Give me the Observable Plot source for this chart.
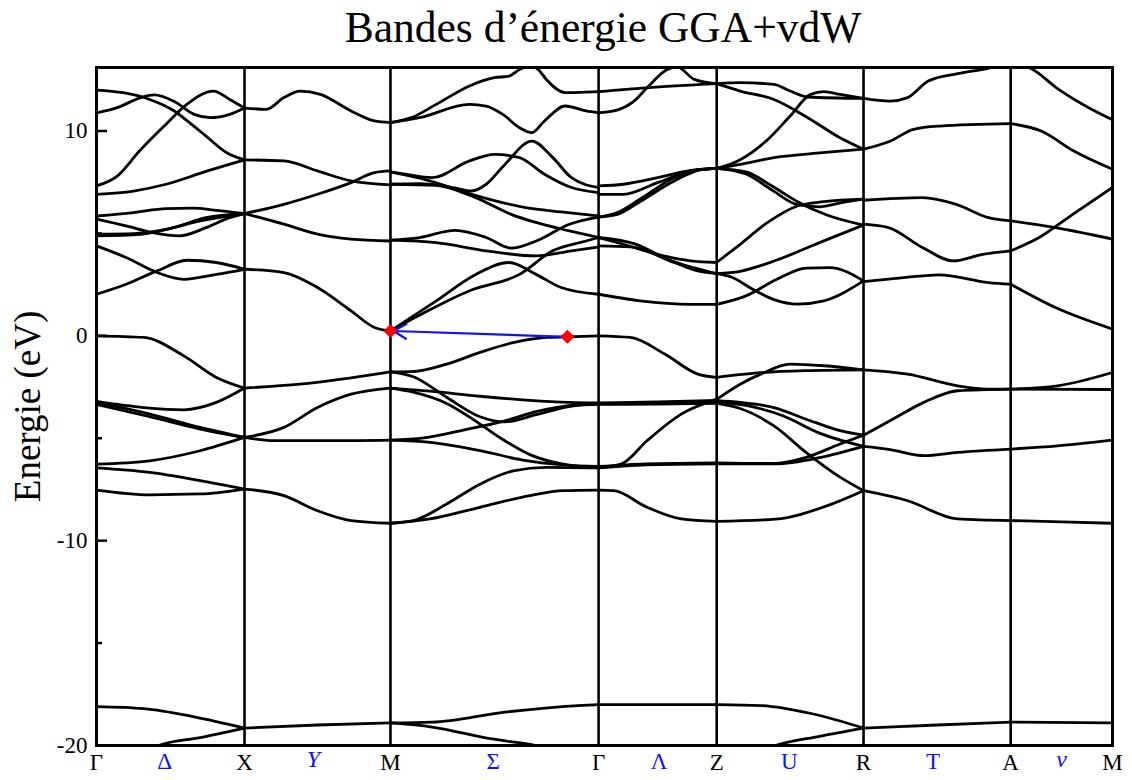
<!DOCTYPE html>
<html><head><meta charset="utf-8">
<script src="https://cdn.jsdelivr.net/npm/d3@7"></script>
<script src="https://cdn.jsdelivr.net/npm/@observablehq/plot@0.6"></script>
<style>
body{margin:0;background:#fff;}
#title{height:60px;width:1132px;position:relative;font-family:"Liberation Serif",serif;font-size:43.5px;line-height:42px;}
#title span{position:absolute;left:603px;top:6px;transform:translateX(-50%);white-space:nowrap;}
</style></head><body>
<div id="title"><span>Bandes d’énergie GGA+vdW</span></div>
<div id="chart"></div>
<script>
// High-symmetry points and cumulative k-path distance (2π/a)
const kLabels = ["Γ","X","M","Γ","Z","R","A","M"];
const kDist = [0, 0.5, 0.993, 1.696, 2.095, 2.591, 3.088, 3.432];
// Direction labels between the points
const midLabels = ["Δ","Y","Σ","Λ","U","T","ν"];
const midK = [0.23, 0.733, 1.34, 1.9, 2.34, 2.826, 3.26];
const italicLabels = ["Y","ν"];
// Energy ticks (eV)
const majorTicks = [10, 0, -10, -20];
const minorTicks = [5, -5, -15];

// Bands per segment: each curve is a list of [fraction along segment, energy eV]
const segGX = [
 [[0,12.0],[.18,11.87],[.36,11.54],[.52,11.0],[.63,10.4],[.74,9.75],[.88,8.94],[1,8.59]],
 [[0,10.89],[.14,11.14],[.3,11.63],[.39,11.76],[.52,11.46],[.66,10.81],[.77,10.65],[.9,10.81],[1,11.12]],
 [[0,7.32],[.14,7.8],[.29,9.02],[.47,10.33],[.61,11.3],[.79,11.95],[.9,11.54],[1,11.12]],
 [[0,6.91],[.25,7.07],[.47,7.4],[.75,8.05],[1,8.59]],
 [[0,5.85],[.25,6.02],[.47,6.21],[.65,6.23],[.81,6.13],[1,5.97]],
 [[0,5.7],[.2,5.37],[.38,5.04],[.56,4.88],[.74,5.28],[.9,5.77],[1,5.97]],
 [[0,4.96],[.25,4.99],[.47,5.2],[.7,5.61],[1,5.97]],
 [[0,4.88],[.3,4.96],[.52,5.28],[.74,5.77],[1,5.97]],
 [[0,4.39],[.2,3.82],[.41,3.09],[.59,2.76],[.81,3.0],[1,3.25]],
 [[0,2.03],[.2,2.52],[.41,3.17],[.61,3.69],[.81,3.58],[1,3.25]],
 [[0,0],[.32,-0.08],[.59,-0.98],[.81,-2.03],[1,-2.55]],
 [[0,-3.2],[.32,-3.5],[.59,-3.61],[.81,-3.25],[1,-2.55]],
 [[0,-3.25],[.36,-3.82],[.7,-4.47],[1,-4.96]],
 [[0,-3.35],[.36,-3.95],[.7,-4.55],[1,-4.96]],
 [[0,-6.26],[.36,-6.1],[.7,-5.61],[1,-4.96]],
 [[0,-6.45],[.36,-6.67],[.7,-7.07],[1,-7.48]],
 [[0,-7.53],[.36,-7.76],[.7,-7.72],[1,-7.48]],
 [[0,-18.1],[.32,-18.2],[.66,-18.6],[1,-19.15]],
 [[0,-21.4],[.2,-20.8],[.42,-20.0],[.71,-19.6],[1,-19.15]]
];
const segXM = [
 [[0,11.12],[.15,11.06],[.27,11.63],[.38,11.95],[.52,11.79],[.73,10.98],[.89,10.49],[1,10.41]],
 [[0,8.59],[.27,8.54],[.5,8.05],[.73,7.56],[1,7.37]],
 [[0,5.97],[.27,6.42],[.5,6.91],[.73,7.48],[.89,7.97],[1,8.05]],
 [[0,5.97],[.27,5.45],[.5,4.96],[.73,4.72],[1,4.63]],
 [[0,3.25],[.27,3.09],[.5,2.36],[.73,1.22],[.89,0.41],[1,0.24]],
 [[0,-2.55],[.38,-2.36],[1,-1.76]],
 [[0,-4.96],[.27,-4.47],[.5,-3.5],[.73,-2.85],[1,-2.55]],
 [[0,-4.96],[.2,-5.12],[.61,-5.12],[1,-5.09]],
 [[0,-7.48],[.27,-7.8],[.5,-8.54],[.73,-9.02],[1,-9.15]],
 [[0,-19.15],[.5,-19.0],[1,-18.9]]
];
const segMG = [
 [[0,10.41],[.1,10.65],[.22,11.3],[.38,12.2],[.5,12.6],[.57,12.68],[.62,13.0],[.67,13.2],[.71,13.0],[.75,12.5],[.84,11.87],[.94,11.9],[1,11.92]],
 [[0,10.41],[.14,10.65],[.38,11.3],[.46,11.22],[.54,10.81],[.62,10.16],[.68,9.92],[.74,10.49],[.84,11.22],[.94,10.98],[1,10.89]],
 [[0,8.0],[.07,7.89],[.2,7.72],[.38,8.54],[.5,8.86],[.62,8.7],[.74,7.89],[.87,7.24],[1,6.99]],
 [[0,8.0],[.18,7.59],[.39,6.91],[.65,6.26],[.82,6.05],[1,5.85]],
 [[0,7.4],[.22,7.35],[.39,6.83],[.58,5.93],[.86,5.12],[1,4.8]],
 [[0,7.4],[.14,7.43],[.3,7.24],[.39,7.07],[.46,7.4],[.55,8.37],[.68,9.51],[.78,8.7],[.87,7.72],[1,7.24]],
 [[0,4.67],[.14,4.8],[.31,5.15],[.46,4.8],[.58,4.28],[.7,4.63],[.86,5.45],[1,5.8]],
 [[0,4.67],[.22,4.55],[.46,4.15],[.7,3.9],[.87,4.15],[1,4.34]],
 [[0,0.24],[.22,1.71],[.41,3.0],[.57,3.58],[.7,3.0],[.82,2.36],[1,2.03]],
 [[0,0.24],[.18,1.22],[.38,2.2],[.62,3.0],[.78,4.15],[.94,4.63],[1,4.8]],
 [[0,-1.76],[.1,-1.75],[.27,-1.38],[.43,-0.81],[.59,-0.33],[.75,-0.08],[.85,-0.05],[1,0]],
 [[0,-1.76],[.11,-2.0],[.27,-3.0],[.43,-3.95],[.55,-4.2],[.7,-3.85],[.88,-3.42],[1,-3.35]],
 [[0,-2.55],[.19,-2.7],[.43,-2.95],[.67,-3.15],[.86,-3.25],[1,-3.28]],
 [[0,-2.55],[.11,-2.75],[.27,-3.3],[.4,-4.1],[.53,-5.0],[.67,-5.8],[.85,-6.3],[1,-6.42]],
 [[0,-5.09],[.19,-5.2],[.43,-5.6],[.63,-6.05],[.83,-6.3],[1,-6.38]],
 [[0,-5.09],[.16,-4.98],[.35,-4.6],[.55,-4.15],[.7,-3.7],[.88,-3.38],[1,-3.32]],
 [[0,-9.15],[.11,-9.02],[.27,-8.21],[.43,-7.24],[.59,-6.59],[.75,-6.42],[1,-6.45]],
 [[0,-9.15],[.19,-8.94],[.43,-8.37],[.67,-7.8],[.83,-7.56],[1,-7.53]],
 [[0,-18.9],[.2,-18.86],[.55,-18.37],[.9,-18.05],[1,-18.0]],
 [[0,-18.9],[.2,-19.1],[.48,-19.67],[.7,-20.0],[1,-20.8]]
];
const segGZ = [
 [[0,11.92],[.4,12.11],[1,12.31]],
 [[0,10.89],[.13,10.98],[.3,11.46],[.41,12.11],[.58,13.0],[.66,13.15],[.81,12.52],[1,12.31]],
 [[0,7.32],[.21,7.4],[.5,7.72],[.78,8.08],[1,8.18]],
 [[0,6.91],[.21,6.91],[.5,7.48],[.78,8.05],[1,8.18]],
 [[0,5.8],[.16,6.02],[.35,6.67],[.64,7.72],[.86,8.13],[1,8.18]],
 [[0,5.8],[.16,5.93],[.35,6.55],[.64,7.56],[.86,8.1],[1,8.18]],
 [[0,4.8],[.21,4.47],[.5,3.98],[.78,3.66],[1,3.58]],
 [[0,4.8],[.3,4.5],[.6,3.7],[1,3.04]],
 [[0,4.39],[.27,4.34],[.64,3.58],[.84,3.17],[1,3.04]],
 [[0,2.03],[.35,1.71],[.78,1.54],[1,1.54]],
 [[0,0],[.27,-0.08],[.56,-0.89],[.84,-1.87],[1,-2.03]],
 [[0,-3.28],[.5,-3.22],[1,-3.15]],
 [[0,-3.32],[.5,-3.28],[1,-3.22]],
 [[0,-3.35],[.5,-3.33],[1,-3.3]],
 [[0,-6.42],[.19,-6.26],[.41,-5.12],[.7,-3.82],[1,-3.09]],
 [[0,-6.38],[.4,-6.25],[1,-6.2]],
 [[0,-6.45],[.4,-6.3],[1,-6.25]],
 [[0,-7.53],[.13,-7.56],[.41,-8.37],[.7,-8.94],[1,-9.06]],
 [[0,-18.0],[1,-18.0]]
];
const segZR = [
 [[0,12.31],[.16,12.36],[.39,12.28],[.5,11.95],[.62,11.66],[1,11.59]],
 [[0,12.31],[.16,11.95],[.39,11.54],[.62,10.65],[.84,9.67],[1,9.11]],
 [[0,8.18],[.1,8.4],[.16,8.6],[.35,9.6],[.5,10.73],[.64,11.79],[.73,11.92],[.84,11.79],[1,11.59]],
 [[0,8.18],[.16,8.37],[.39,8.7],[.72,8.94],[1,9.11]],
 [[0,8.18],[.2,7.9],[.38,7.1],[.55,6.4],[.7,6.3],[.85,6.5],[1,6.67]],
 [[0,8.18],[.2,8.0],[.38,7.3],[.55,6.55],[.75,5.9],[1,5.41]],
 [[0,3.58],[.16,4.47],[.34,5.5],[.55,6.34],[.73,6.55],[1,6.67]],
 [[0,3.04],[.16,3.15],[.41,3.7],[.7,4.55],[1,5.41]],
 [[0,3.04],[.1,2.87],[.23,2.34],[.39,1.77],[.55,1.55],[.73,1.71],[1,2.68]],
 [[0,1.54],[.2,1.95],[.41,2.76],[.61,3.31],[.77,3.33],[1,2.68]],
 [[0,-2.03],[.3,-1.8],[.6,-1.7],[1,-1.66]],
 [[0,-3.1],[.16,-2.36],[.3,-1.87],[.5,-1.38],[.73,-1.46],[1,-1.66]],
 [[0,-3.17],[.16,-3.25],[.39,-3.5],[.61,-4.07],[.84,-4.63],[1,-4.85]],
 [[0,-3.22],[.2,-3.4],[.45,-3.9],[.7,-4.75],[1,-5.4]],
 [[0,-3.3],[.16,-3.55],[.39,-4.4],[.61,-5.7],[.84,-6.9],[1,-7.56]],
 [[0,-6.2],[.39,-6.23],[.61,-5.93],[.84,-5.28],[1,-4.85]],
 [[0,-6.25],[.4,-6.25],[.7,-5.95],[1,-5.4]],
 [[0,-9.06],[.4,-8.95],[.75,-8.3],[1,-7.56]],
 [[0,-18.0],[.3,-18.05],[.65,-18.45],[1,-19.15]],
 [[0,-21.0],[.2,-20.6],[.4,-20.0],[.7,-19.55],[1,-19.15]]
];
const segRA = [
 [[0,11.59],[.18,11.46],[.3,11.63],[.44,12.44],[.64,12.8],[.84,13.05],[1,13.3]],
 [[0,9.11],[.18,9.5],[.34,10.08],[.52,10.24],[1,10.36]],
 [[0,6.62],[.4,6.75],[.63,6.42],[.85,5.77],[1,5.61]],
 [[0,5.45],[.17,5.28],[.4,4.31],[.61,3.66],[.81,3.98],[1,4.15]],
 [[0,2.65],[.29,2.85],[.51,2.98],[.85,2.6],[1,2.52]],
 [[0,-1.66],[.3,-1.87],[.64,-2.44],[.84,-2.6],[1,-2.6]],
 [[0,-4.85],[.18,-4.15],[.41,-3.25],[.64,-2.68],[1,-2.6]],
 [[0,-5.4],[.18,-5.55],[.41,-5.85],[.64,-5.69],[1,-5.53]],
 [[0,-7.56],[.3,-8.05],[.64,-8.94],[1,-9.02]],
 [[0,-19.15],[.5,-19.0],[1,-18.86]]
];
const segAM = [
 [[0,13.3],[.2,13.05],[.46,12.07],[.78,11.1],[1,10.55]],
 [[0,10.36],[.3,10.0],[.62,9.02],[1,8.13]],
 [[0,5.61],[.44,5.28],[1,4.72]],
 [[0,4.15],[.28,4.8],[.61,5.93],[1,7.24]],
 [[0,2.52],[.44,1.38],[1,0.33]],
 [[0,-2.6],[.46,-2.44],[1,-1.79]],
 [[0,-2.6],[1,-2.62]],
 [[0,-5.53],[.46,-5.37],[1,-5.09]],
 [[0,-9.02],[.5,-9.08],[1,-9.15]],
 [[0,-18.86],[1,-18.9]]
];
// Band edges: conduction-band minimum at M, valence-band maximum on M–Γ
const bandEdges = [
 {seg: 2, t: 0, E: 0.24, name: "CBM"},
 {seg: 2, t: 0.85, E: -0.05, name: "VBM"}
];

const segments = [segGX, segXM, segMG, segGZ, segZR, segRA, segAM];
const kAt = (s, t) => kDist[s] + t * (kDist[s + 1] - kDist[s]);
const rows = [];
segments.forEach((seg, s) => seg.forEach((curve, c) => curve.forEach(([t, E]) => rows.push({k: kAt(s, t), E, id: s + "-" + c}))));
const edges = bandEdges.map(d => ({k: kAt(d.seg, d.t), E: d.E, name: d.name}));
const gap = [{k1: edges[1].k, e1: edges[1].E, k2: edges[0].k, e2: edges[0].E}];

const W = 1132, H = 720, mL = 96, mR = 20, mT = 7, mB = 35;
const plotW = W - mL - mR;
const serif = "Liberation Serif, Times New Roman, serif";

const chart = Plot.plot({
  width: W, height: H,
  marginLeft: mL, marginRight: mR, marginTop: mT, marginBottom: mB,
  style: {fontFamily: serif, fontSize: "22px", color: "black", background: "white"},
  x: {domain: [kDist[0], kDist[kDist.length - 1]], axis: null},
  y: {domain: [-20, 13.1], axis: null},
  marks: [
    Plot.line(rows, {x: "k", y: "E", z: "id", curve: "monotone-x", stroke: "black", strokeWidth: 2.8, clip: true}),
    Plot.ruleX(kDist.slice(1, -1), {stroke: "black", strokeWidth: 2.6}),
    Plot.tickY(majorTicks, {y: d => d, stroke: "black", strokeWidth: 2.5, insetRight: plotW - 11}),
    Plot.tickY(minorTicks, {y: d => d, stroke: "black", strokeWidth: 2.5, insetRight: plotW - 6}),
    Plot.axisY({ticks: majorTicks, tickSize: 0, tickPadding: 9, tickFormat: d => String(d), fontSize: 23, fontFamily: serif}),
    Plot.text(["Energie (eV)"], {frameAnchor: "left", textAnchor: "middle", dx: -68, rotate: -90, fontSize: 37, fontFamily: serif, fill: "black"}),
    Plot.text(kLabels.map((l, i) => ({k: kDist[i], l})), {x: "k", text: "l", frameAnchor: "bottom", dy: 24, fontSize: 23, fontFamily: serif, fill: "black"}),
    Plot.text(midLabels.map((l, i) => ({k: midK[i], l})).filter(d => !italicLabels.includes(d.l)), {x: "k", text: "l", frameAnchor: "bottom", dy: 23, fontSize: 23, fontFamily: serif, fill: "#1010ff"}),
    Plot.text(midLabels.map((l, i) => ({k: midK[i], l})).filter(d => italicLabels.includes(d.l)), {x: "k", text: "l", frameAnchor: "bottom", dy: 21, fontSize: 24, fontFamily: serif, fontStyle: "italic", fill: "#1010ff"}),
    Plot.frame({stroke: "black", strokeWidth: 3}),
    Plot.arrow(gap, {x1: "k1", y1: "e1", x2: "k2", y2: "e2", stroke: "#1010ff", strokeWidth: 2.2, headLength: 10, insetEnd: 3}),
    Plot.dot(edges, {x: "k", y: "E", symbol: "diamond2", r: 6.3, fill: "red", stroke: "none"})
  ]
});
document.getElementById("chart").appendChild(chart);
</script>
</body></html>
